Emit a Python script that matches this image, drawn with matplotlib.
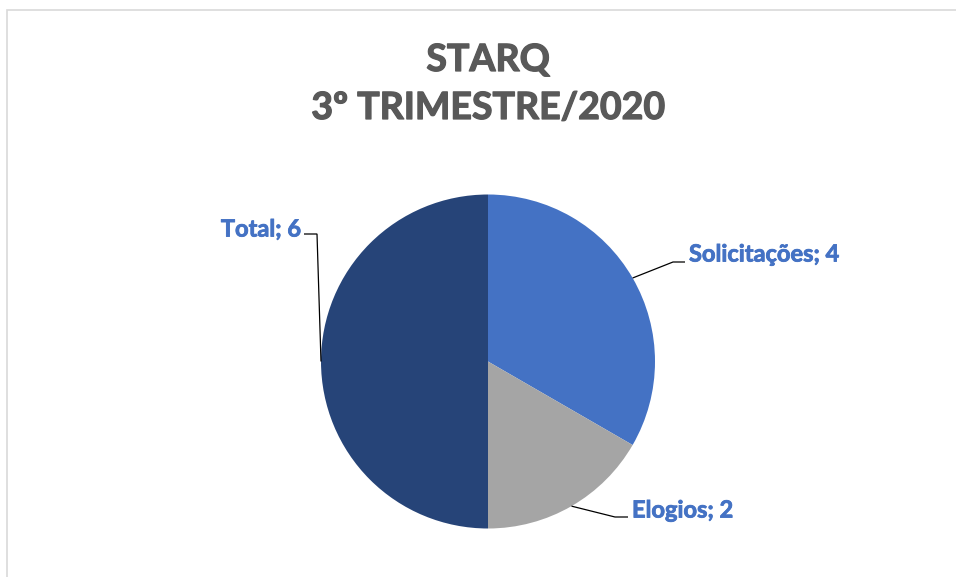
import numpy as np
import matplotlib
matplotlib.use("Agg")
import matplotlib.pyplot as plt
import matplotlib.patheffects as pe
from matplotlib.patches import Rectangle

# ---- data ----
categories = ["Solicitações", "Elogios", "Total"]
values = [4, 2, 6]
title_lines = ["STARQ", "3º TRIMESTRE/2020"]

colors = ["#4472C4", "#A5A5A5", "#264478"]
label_color = "#4472C4"
title_color = "#595959"
FONT = ["Lato", "DejaVu Sans"]

W, H = 956, 577
fig = plt.figure(figsize=(W / 100, H / 100), dpi=100)
ax = fig.add_axes([0, 0, 1, 1])

# chart border (light gray)
fig.patches.append(Rectangle((7 / W, -0.05), 1.1, (H - 10) / H + 0.05,
                             transform=fig.transFigure, fill=False,
                             edgecolor="#D9D9D9", linewidth=1.2))

cx, cy, r = 488, H - 361.5, 167
wedges, _ = ax.pie(values, colors=colors, startangle=90, counterclock=False,
                   center=(cx, cy), radius=r, frame=True,
                   wedgeprops=dict(linewidth=0))
ax.set_xlim(0, W)
ax.set_ylim(0, H)
ax.set_aspect("equal")
ax.axis("off")

thick_title = [pe.withStroke(linewidth=0.9, foreground=title_color)]
thick_label = [pe.withStroke(linewidth=0.6, foreground=label_color)]

# title
ax.text(cx, H - 60, title_lines[0], ha="center", va="center", fontsize=27,
        fontweight="bold", color=title_color, family=FONT, path_effects=thick_title)
ax.text(cx, H - 108, title_lines[1], ha="center", va="center", fontsize=27,
        fontweight="bold", color=title_color, family=FONT, path_effects=thick_title)

# label layout: elbow point, end of horizontal segment, text anchor (px from top)
layout = {
    "Solicitações": dict(elbow=(673, 262), end=(685, 262), text=(689, 254), ha="left"),
    "Elogios": dict(elbow=(615, 517), end=(628, 517), text=(632, 510), ha="left"),
    "Total": dict(elbow=(317, 234), end=(304, 234), text=(301, 229), ha="right"),
}

for w, cat, val in zip(wedges, categories, values):
    mid = np.deg2rad((w.theta1 + w.theta2) / 2)
    px, py = cx + r * np.cos(mid), cy + r * np.sin(mid)
    L = layout[cat]
    ex, ey = L["elbow"][0], H - L["elbow"][1]
    hx, hy = L["end"][0], H - L["end"][1]
    ax.plot([px, ex, hx], [py, ey, hy], color="black", linewidth=0.9,
            solid_capstyle="butt", solid_joinstyle="miter")
    ax.text(L["text"][0], H - L["text"][1], f"{cat}; {val}", ha=L["ha"],
            va="center", fontsize=17, fontweight="bold", color=label_color,
            family=FONT, path_effects=thick_label)

fig.savefig("out.png", dpi=100, facecolor="white")
